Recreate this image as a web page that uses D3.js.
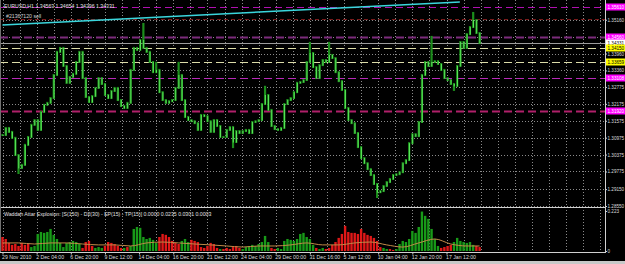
<!DOCTYPE html>
<html>
<head>
<meta charset="utf-8">
<script src="https://cdn.jsdelivr.net/npm/d3@7"></script>
<style>
  html, body { margin: 0; padding: 0; background: #000; overflow: hidden; }
  svg { display: block; font-family: "Liberation Sans", Arial, sans-serif; }
</style>
</head>
<body>
<svg id="chart" width="625" height="264"></svg>
<script>
// EURUSD H1, one sample every 6 bars
var closes = [
  1.3107, 1.3132, 1.3118, 1.3097, 1.3036, 1.2990, 1.3001, 1.3072, 1.3100, 1.3143,
  1.3160, 1.3125, 1.3189, 1.3214, 1.3221, 1.3238, 1.3320, 1.3402, 1.3416, 1.3352,
  1.3292, 1.3313, 1.3324, 1.3366, 1.3402, 1.3309, 1.3242, 1.3224, 1.3245, 1.3274,
  1.3309, 1.3288, 1.3249, 1.3238, 1.3263, 1.3274, 1.3231, 1.3210, 1.3203, 1.3221,
  1.3338, 1.3416, 1.3409, 1.3444, 1.3416, 1.3402, 1.3366, 1.3330, 1.3338, 1.3259,
  1.3231, 1.3221, 1.3227, 1.3231, 1.3274, 1.3320, 1.3231, 1.3171, 1.3160, 1.3156,
  1.3149, 1.3125, 1.3178, 1.3174, 1.3156, 1.3118, 1.3160, 1.3139, 1.3100, 1.3100,
  1.3125, 1.3135, 1.3082, 1.3121, 1.3114, 1.3121, 1.3125, 1.3114, 1.3153, 1.3156,
  1.3160, 1.3217, 1.3249, 1.3196, 1.3139, 1.3128, 1.3125, 1.3132, 1.3217, 1.3231,
  1.3238, 1.3259, 1.3292, 1.3295, 1.3302, 1.3366, 1.3398, 1.3348, 1.3309, 1.3355,
  1.3373, 1.3366, 1.3391, 1.3380, 1.3330, 1.3298, 1.3267, 1.3203, 1.3160, 1.3149,
  1.3114, 1.3064, 1.3025, 1.3007, 1.2986, 1.2965, 1.2933, 1.2904, 1.2908, 1.2926,
  1.2940, 1.2951, 1.2965, 1.2968, 1.2975, 1.3007, 1.3018, 1.3078, 1.3110, 1.3103,
  1.3153, 1.3320, 1.3366, 1.3352, 1.3366, 1.3369, 1.3359, 1.3338, 1.3309, 1.3302,
  1.3288, 1.3281, 1.3352, 1.3437, 1.3416, 1.3465, 1.3490, 1.3515, 1.3469, 1.3433
];
// wicks that stick out past open/close
var wickHighs = {44: 1.3501, 48: 1.3363, 55: 1.3363, 82: 1.3278, 96: 1.3434, 102: 1.3434, 134: 1.3455, 147: 1.3540};
var wickLows = {5: 1.2972, 72: 1.3064, 117: 1.2887, 141: 1.3267};

// Waddah Attar Explosion histogram (+ green, - red)
var waeHist = [
  -0.078, -0.067, -0.045, -0.034, -0.039, -0.028, -0.045, -0.034, -0.039, 0.022,
  0.028, 0.095, 0.106, 0.101, 0.106, 0.123, 0.090, 0.067, 0.045, 0.022,
  0.045, 0.050, 0.056, 0.050, 0.039, -0.017, -0.050, -0.056, -0.028, 0.017,
  0.022, 0.017, -0.028, -0.050, -0.045, -0.039, -0.028, -0.017, 0.017, -0.022,
  0.028, 0.123, 0.134, 0.129, 0.078, 0.067, 0.073, 0.062, 0.045, -0.078,
  -0.095, -0.090, -0.078, -0.056, -0.045, -0.039, 0.056, 0.067, 0.050, -0.062,
  -0.056, -0.050, -0.022, -0.017, -0.028, -0.045, -0.039, -0.017, 0.011, -0.011,
  -0.017, -0.011, -0.022, -0.028, -0.017, 0.011, 0.022, 0.028, 0.034, 0.028,
  0.039, 0.050, 0.084, 0.050, -0.017, -0.011, 0.017, 0.011, 0.056, 0.067,
  0.062, 0.056, 0.067, 0.095, 0.101, 0.078, 0.067, 0.034, -0.017, 0.011,
  0.017, -0.011, -0.017, -0.034, -0.050, -0.073, -0.095, -0.140, -0.106, -0.101,
  -0.101, -0.095, -0.123, -0.101, -0.090, -0.084, -0.073, -0.056, -0.022, 0.017,
  0.011, -0.011, -0.006, 0.011, 0.039, 0.056, 0.050, 0.067, 0.112, 0.101,
  0.134, 0.220, 0.196, 0.179, 0.123, 0.067, 0.028, -0.017, -0.022, -0.028,
  -0.034, 0.050, 0.073, 0.056, 0.050, 0.045, 0.050, 0.034, -0.028, -0.022
];
// explosion line [sample, value]
var waeSignal = [
  [0, 0.045], [5, 0.045], [10, 0.039], [15, 0.045], [20, 0.045], [25, 0.039],
  [30, 0.034], [35, 0.034], [40, 0.028], [45, 0.045], [50, 0.050], [55, 0.045],
  [60, 0.039], [65, 0.034], [70, 0.028], [75, 0.022], [80, 0.028], [85, 0.028],
  [90, 0.034], [95, 0.045], [100, 0.034], [105, 0.034], [110, 0.045], [115, 0.050],
  [120, 0.034], [125, 0.022], [130, 0.045], [135, 0.067], [140, 0.039], [145, 0.028],
  [149, 0.028]
];

var priceTicks = [1.35160, 1.34560, 1.33960, 1.33360, 1.32775, 1.32175, 1.31575,
                  1.30975, 1.30375, 1.29775, 1.29150, 1.28550];
var dateLabels = ["29 Nov 2010", "2 Dec 04:00", "6 Dec 20:00", "9 Dec 12:00", "14 Dec 04:00",
                  "16 Dec 20:00", "21 Dec 12:00", "24 Dec 04:00", "29 Dec 00:00", "31 Dec 16:00",
                  "5 Jan 12:00", "10 Jan 04:00", "12 Jan 20:00", "17 Jan 12:00"];

// horizontal order/level lines with their price tags
var levels = [
  {price: 1.35610, line: "#b010b0", width: 1, dash: "7,4", tag: "#ff00ff", ink: "#fff"},
  {price: 1.35190, line: "#7a1c1c", width: 1, dash: "4,3", tag: null},
  {price: 1.34560, line: "#7c2c7c", width: 2, dash: "8,4", tag: "#ff00ff", ink: "#fff"},
  {price: 1.34331, line: "#9c9c9c", width: 1, dash: null, tag: "#ffffff", ink: "#000"},
  {price: 1.34150, line: "#dcdca8", width: 1, dash: "8,4", tag: "#ffff00", ink: "#000"},
  {price: 1.33659, line: "#dcdca8", width: 1, dash: "8,4", tag: "#ffff00", ink: "#000"},
  {price: 1.33108, line: "#b828b8", width: 1, dash: "8,4", tag: "#ff00ff", ink: "#fff"},
  {price: 1.31920, line: "#b0206a", width: 2, dash: "8,4", tag: "#ff00ff", ink: "#fff"}
];
var trendLine = [{bar: 0, price: 1.3497}, {bar: 857, price: 1.3579}];

var barStep = 6, barsPerLabel = 64;
var W = 625, H = 264, right = 605, mainBottom = 207, subBottom = 252;
var fs = 4.6;

var svg = d3.select("#chart");
var x = d3.scaleLinear().domain([0, 1129]).range([2.5, right]);
var y = d3.scaleLinear().domain([1.3586, 1.2855]).range([0, 206]);
var ySub = d3.scaleLinear().domain([0, 0.223]).range([251, 211]);

svg.append("rect").attr("width", W).attr("height", H).attr("fill", "#000");

// grid
var gridBars = d3.range(0, 1129, barsPerLabel / 2);
var grid = svg.append("g").attr("stroke", "#8a8a8a").attr("stroke-dasharray", "1,2").attr("stroke-width", 1);
grid.selectAll(".v").data(gridBars).enter().append("line")
  .attr("x1", d => Math.round(x(d)) + 0.5).attr("x2", d => Math.round(x(d)) + 0.5)
  .attr("y1", 0).attr("y2", subBottom);
grid.selectAll(".h").data(priceTicks).enter().append("line")
  .attr("x1", 0).attr("x2", right)
  .attr("y1", d => Math.round(y(d)) + 0.5).attr("y2", d => Math.round(y(d)) + 0.5);

// level lines
svg.append("g").selectAll("line").data(levels).enter().append("line")
  .attr("x1", 0).attr("x2", right)
  .attr("y1", d => Math.round(y(d.price)) + 0.5).attr("y2", d => Math.round(y(d.price)) + 0.5)
  .attr("stroke", d => d.line).attr("stroke-width", d => d.width)
  .attr("stroke-dasharray", d => d.dash);

// trend line
svg.append("line")
  .attr("x1", x(trendLine[0].bar)).attr("y1", y(trendLine[0].price))
  .attr("x2", x(trendLine[1].bar)).attr("y2", y(trendLine[1].price))
  .attr("stroke", "#3ad6dc").attr("stroke-width", 1.5);

// price bars
var bars = closes.map(function(c, i) {
  var o = i ? closes[i - 1] : c;
  var hi = Math.max(o, c), lo = Math.min(o, c);
  if (wickHighs[i]) hi = Math.max(hi, wickHighs[i]);
  if (wickLows[i]) lo = Math.min(lo, wickLows[i]);
  return {bar: i * barStep, open: o, close: c, high: hi, low: lo};
});
var candles = svg.append("g");
candles.selectAll(".wick").data(bars).enter().append("line")
  .attr("x1", d => x(d.bar)).attr("x2", d => x(d.bar))
  .attr("y1", d => y(d.high) - 1).attr("y2", d => y(d.low) + 1)
  .attr("stroke", "#1c8e1c").attr("stroke-width", 2.2);
candles.selectAll(".body").data(bars).enter().append("line")
  .attr("x1", d => x(d.bar) + 0.3).attr("x2", d => x(d.bar) + 0.3)
  .attr("y1", d => y(Math.max(d.open, d.close))).attr("y2", d => y(Math.min(d.open, d.close)) + 0.5)
  .attr("stroke", "#62f262").attr("stroke-width", 0.9);

// frame lines
svg.append("line").attr("x1", 0).attr("x2", right).attr("y1", mainBottom + 0.5).attr("y2", mainBottom + 0.5)
  .attr("stroke", "#d0d0d0");
svg.append("line").attr("x1", 0).attr("x2", right).attr("y1", subBottom + 0.5).attr("y2", subBottom + 0.5)
  .attr("stroke", "#d0d0d0");
svg.append("line").attr("x1", right + 0.5).attr("x2", right + 0.5).attr("y1", 0).attr("y2", subBottom + 1)
  .attr("stroke", "#d0d0d0");
svg.append("line").attr("x1", 0.5).attr("x2", 0.5).attr("y1", 0).attr("y2", subBottom)
  .attr("stroke", "#707070");

function styleAxis(g) {
  g.select(".domain").remove();
  g.selectAll("line").attr("stroke", "#d0d0d0");
  g.selectAll("text").attr("fill", "#dcdcdc").attr("font-size", fs).attr("font-family", "Liberation Sans, Arial");
}

// price axis
var priceAxis = d3.axisRight(y).tickValues(priceTicks).tickSize(1.5).tickPadding(0.5)
  .tickFormat(d3.format(".5f"));
svg.append("g").attr("transform", "translate(" + (right + 0.5) + ",0)").call(priceAxis).call(styleAxis);

// price tags
var tags = svg.append("g").selectAll("g").data(levels.filter(d => d.tag)).enter().append("g")
  .attr("transform", d => "translate(" + (right + 1) + "," + Math.round(y(d.price)) + ")");
tags.append("rect").attr("x", 0).attr("y", -3.5).attr("width", W - right - 1).attr("height", 7)
  .attr("fill", d => d.tag);
tags.append("text").attr("x", 1.5).attr("y", 1.8).attr("font-size", fs)
  .attr("fill", d => d.ink).text(d => d3.format(".5f")(d.price));

// histogram
var hist = svg.append("g");
hist.selectAll("rect").data(waeHist).enter().append("rect")
  .attr("x", (d, i) => x(i * barStep) - 1.2).attr("width", 2.4)
  .attr("y", d => ySub(Math.abs(d))).attr("height", d => ySub(0) - ySub(Math.abs(d)))
  .attr("fill", d => d >= 0 ? "#189a18" : "#e01818");
svg.append("path").datum(waeSignal)
  .attr("d", d3.line().x(d => x(d[0] * barStep)).y(d => ySub(d[1])).curve(d3.curveMonotoneX))
  .attr("fill", "none").attr("stroke", "#c08a48").attr("stroke-width", 1);

var subAxis = d3.axisRight(ySub).tickValues([0.223, 0]).tickSize(1.5).tickPadding(0.5)
  .tickFormat(d => d ? d3.format(".3f")(d) : "0");
svg.append("g").attr("transform", "translate(" + (right + 0.5) + ",0)").call(subAxis).call(styleAxis);

// time axis
var dateBars = dateLabels.map((d, i) => i * barsPerLabel);
var timeAxis = d3.axisBottom(x).tickValues(dateBars).tickSize(2).tickPadding(1)
  .tickFormat((d, i) => dateLabels[i]);
svg.append("g").attr("transform", "translate(0," + (subBottom + 0.5) + ")").call(timeAxis).call(styleAxis)
  .selectAll("text").attr("font-size", 5.2).attr("text-anchor", "start").attr("dx", -1);

// captions
svg.append("text").attr("x", 4).attr("y", 7.5).attr("font-size", 5.2).attr("fill", "#e0e0e0")
  .text("EURUSD,H1  1.34563 1.34654 1.34296 1.34331");
svg.append("text").attr("x", 6).attr("y", 18).attr("font-size", 5.2).attr("fill", "#d0d0d0")
  .text("#21367120 sell");
svg.append("text").attr("x", 4).attr("y", 215.5).attr("font-size", 5.2).attr("fill", "#e0e0e0")
  .text("Waddah Attar Explosion: [S(150) - D2(30) - EP(15) - TP(15)] 0.0000 0.0235 0.0301 0.0003");

// window frame strip at the bottom
svg.append("rect").attr("x", 0).attr("y", 261).attr("width", W).attr("height", 3).attr("fill", "#c8c8c8");
</script>
</body>
</html>
